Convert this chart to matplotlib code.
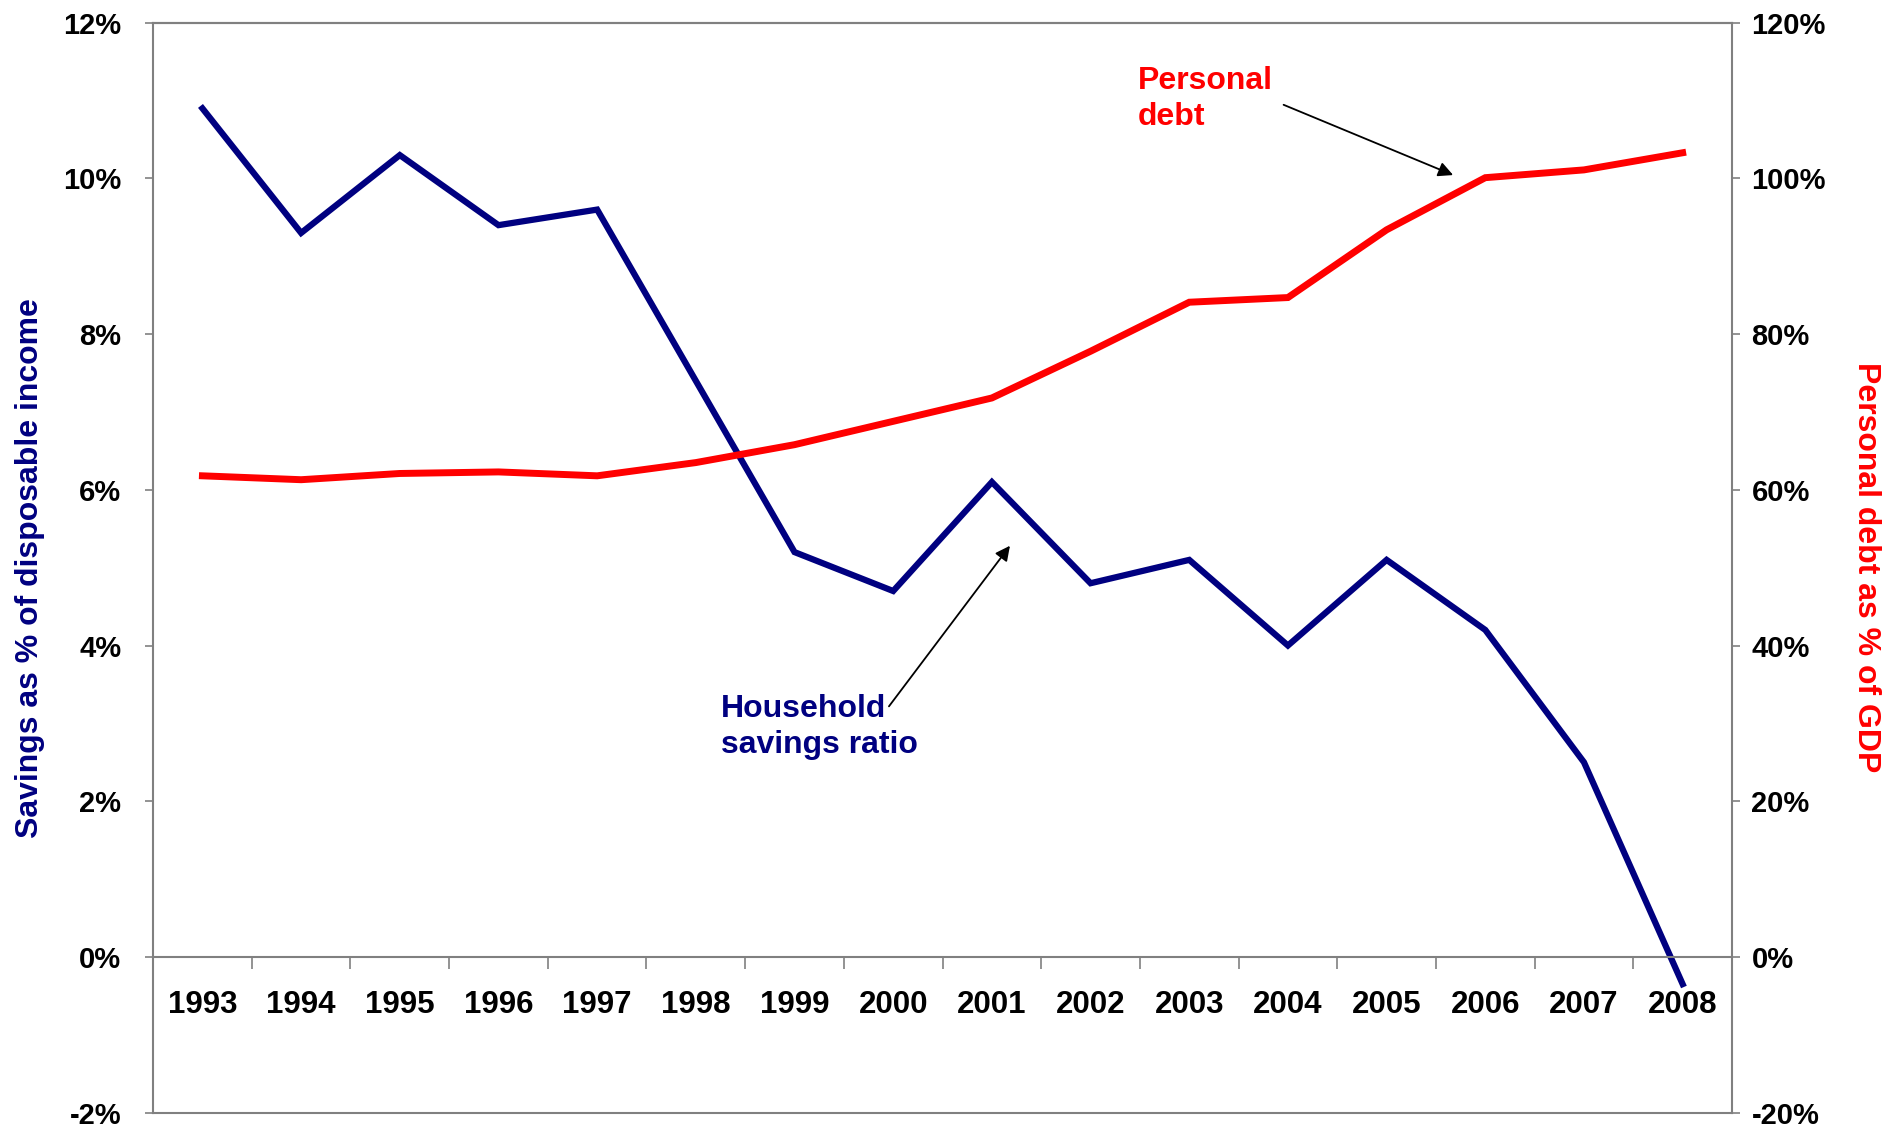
import matplotlib
matplotlib.use("Agg")
import matplotlib.pyplot as plt
import numpy as np
from matplotlib.ticker import FuncFormatter

# ============================================================
# Data
# ============================================================

years = [1993, 1994, 1995, 1996, 1997, 1998, 1999, 2000,
         2001, 2002, 2003, 2004, 2005, 2006, 2007, 2008]

# Household savings ratio, % of disposable income (left axis)
savings = [10.9, 9.3, 10.3, 9.4, 9.6, 7.4, 5.2, 4.7,
           6.1, 4.8, 5.1, 4.0, 5.1, 4.2, 2.5, -0.35]

# Personal debt, % of GDP (right axis)
debt = [61.8, 61.3, 62.1, 62.3, 61.8, 63.5, 65.8, 68.8,
        71.8, 77.8, 84.1, 84.7, 93.4, 100.1, 101.1, 103.3]

left_ticks = [-2, 0, 2, 4, 6, 8, 10, 12]
right_ticks = [-20, 0, 20, 40, 60, 80, 100, 120]

NAVY = "#000080"
RED = "#FF0000"
GREY = "#808080"

plt.rcParams.update({
    "font.family": ["Liberation Sans", "DejaVu Sans"],
    "font.size": 21,
    "font.weight": "bold",
})

# ============================================================
# Figure
# ============================================================

fig = plt.figure(figsize=(18.9, 11.27), dpi=100)
ax = fig.add_axes([0.081, 0.0128, 0.8354, 0.967])
ax2 = ax.twinx()

x = np.arange(len(years))

ax.plot(x, savings, color=NAVY, lw=4.5, solid_joinstyle="miter")
ax2.plot(x, debt, color=RED, lw=5.0, solid_joinstyle="miter")

ax.set_xlim(-0.5, len(years) - 0.5)
ax.set_ylim(left_ticks[0], left_ticks[-1])
ax2.set_ylim(right_ticks[0], right_ticks[-1])

# category axis sits on the zero line
ax.spines["bottom"].set_position(("data", 0))
ax.set_xticks(x)
ax.set_xticklabels([str(y) for y in years], fontweight="bold")
ax.set_xticks(np.arange(-0.5, len(years)), minor=True)
ax.tick_params(axis="x", which="major", length=0, pad=24, labelsize=22.5)
ax.tick_params(axis="x", which="minor", length=8.5, width=1.2,
               direction="out", color=GREY)

ax.set_yticks(left_ticks)
ax.yaxis.set_major_formatter(FuncFormatter(lambda v, _: f"{v:.0f}%"))
ax.tick_params(axis="y", length=6, width=1.2, color=GREY, pad=17, labelsize=21)

ax2.set_yticks(right_ticks)
ax2.yaxis.set_major_formatter(FuncFormatter(lambda v, _: f"{v:.0f}%"))
ax2.tick_params(axis="y", length=6, width=1.2, color=GREY, pad=8, labelsize=21)

for lbl in ax.get_yticklabels() + ax2.get_yticklabels():
    lbl.set_fontweight("bold")

for a in (ax, ax2):
    for s in a.spines.values():
        s.set_color(GREY)
        s.set_linewidth(1.5)
ax2.spines["left"].set_visible(False)
ax.spines["right"].set_visible(False)

# axis titles
ax.text(-0.078, 0.5, "Savings as % of disposable income", transform=ax.transAxes,
        rotation=90, ha="center", va="center", color=NAVY,
        fontsize=23, fontweight="bold")
ax.text(1.085, 0.5, "Personal debt as % of GDP", transform=ax.transAxes,
        rotation=270, ha="center", va="center", color=RED,
        fontsize=23, fontweight="bold")

# annotations
arrow = dict(arrowstyle="-|>", color="black", lw=1.3, mutation_scale=22)

ax2.text(9.48, 110.2, "Personal\ndebt", color=RED, fontsize=23,
         fontweight="bold", ha="left", va="center", linespacing=1.25)
ax2.annotate("", xy=(12.70, 100.3), xytext=(10.93, 109.6), arrowprops=arrow)

ax.text(5.25, 2.95, "Household\nsavings ratio", color=NAVY, fontsize=23,
        fontweight="bold", ha="left", va="center", linespacing=1.25)
ax.annotate("", xy=(8.2, 5.31), xytext=(6.94, 3.19), arrowprops=arrow)

plt.savefig("out.png", dpi=100)
